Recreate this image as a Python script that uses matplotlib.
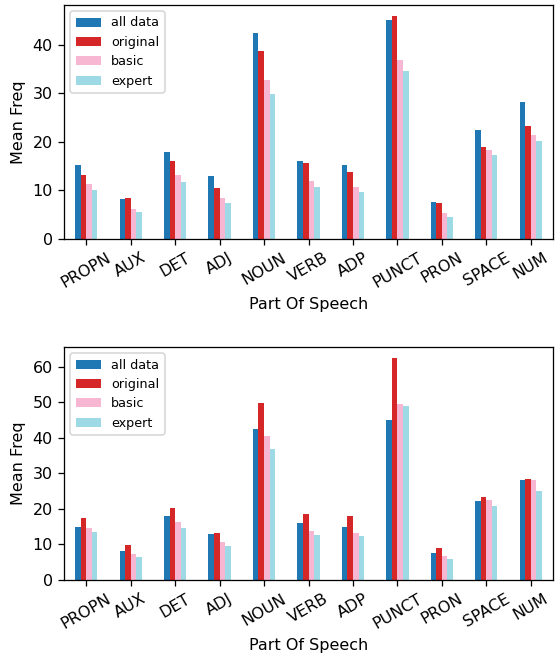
import matplotlib
matplotlib.use("Agg")
import matplotlib.pyplot as plt
import numpy as np

pos = ["PROPN", "AUX", "DET", "ADJ", "NOUN", "VERB", "ADP", "PUNCT", "PRON", "SPACE", "NUM"]
series = ["all data", "original", "basic", "expert"]

# top panel
all_top = [15.2, 8.2, 18.0, 13.0, 42.4, 16.1, 15.2, 45.1, 7.7, 22.4, 28.3]
orig_top = [13.2, 8.4, 16.0, 10.6, 38.8, 15.6, 13.7, 45.9, 7.5, 19.0, 23.3]
basic_top = [11.3, 6.2, 13.2, 8.4, 32.7, 11.9, 10.8, 36.8, 5.3, 18.3, 21.4]
expert_top = [10.1, 5.6, 11.7, 7.4, 29.8, 10.8, 9.6, 34.6, 4.5, 17.3, 20.2]

# bottom panel
all_bot = [15.0, 8.2, 18.0, 12.8, 42.4, 16.0, 15.0, 45.1, 7.6, 22.2, 28.1]
orig_bot = [17.4, 9.9, 20.2, 13.2, 49.7, 18.6, 18.0, 62.4, 9.1, 23.2, 28.5]
basic_bot = [14.7, 7.3, 16.4, 10.8, 40.5, 13.7, 13.3, 49.6, 6.8, 22.5, 28.1]
expert_bot = [13.4, 6.6, 14.5, 9.5, 36.7, 12.7, 12.4, 49.0, 5.9, 20.9, 25.1]

colors = ["#1f77b4", "#d62728", "#f7b6d2", "#9edae5"]  # tab20 picks

W, H, DPI = 555, 659, 115
fig = plt.figure(figsize=(W / DPI, H / DPI), dpi=DPI)
ax1 = fig.add_axes([64 / W, 1 - 239 / H, (553 - 64) / W, (239 - 5) / H])
ax2 = fig.add_axes([64 / W, 1 - 580 / H, (553 - 64) / W, (580 - 347) / H])


def draw(ax, data):
    x = np.arange(len(pos))
    bw = 0.5 / len(data)
    for i, (vals, name) in enumerate(zip(data, series)):
        ax.bar(x - 0.25 + bw * (i + 0.5), vals, bw, color=colors[i], label=name)
    ax.set_xlim(-0.5, len(pos) - 0.5)
    ax.set_xticks(x)
    ax.set_xticklabels(pos, rotation=30)
    ax.set_xlabel("Part Of Speech")
    ax.set_ylabel("Mean Freq")
    ax.legend(loc="upper left", fontsize=8)


draw(ax1, [all_top, orig_top, basic_top, expert_top])
draw(ax2, [all_bot, orig_bot, basic_bot, expert_bot])

fig.savefig("out.png", dpi=DPI)
